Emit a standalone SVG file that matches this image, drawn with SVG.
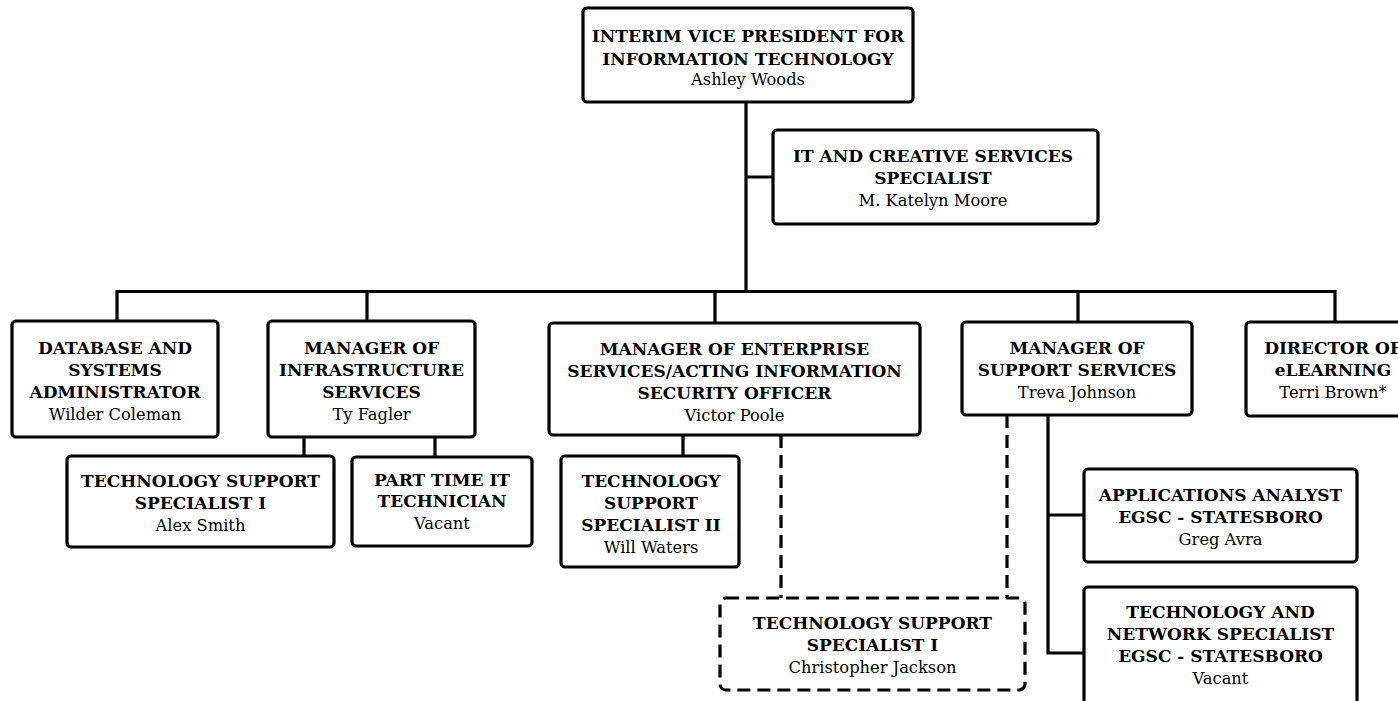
<svg xmlns="http://www.w3.org/2000/svg" width="1398" height="701" viewBox="0 0 1398 701">
<style>
.box{fill:#fff;stroke:#000;stroke-width:3.2}
.dbox{fill:#fff;stroke:#000;stroke-width:3.2;stroke-dasharray:13 7}
.ln{fill:none;stroke:#000;stroke-width:3.2}
.dl{fill:none;stroke:#000;stroke-width:3.2;stroke-dasharray:13 7}
text{font-family:"DejaVu Serif","Liberation Serif",serif;text-anchor:middle;fill:#000}
.t{font-weight:bold;font-size:17px}
.n{font-size:16.3px}
</style>
<rect width="1398" height="701" fill="#fff"/>
<g id="connectors">
<path class="ln" d="M746 102V291.5M746 177H773M117 291.5H1335M117 290V321M367 290V321M715 290V323M1078 290V322M1335 290V322M304 437V456M435 437V457M683 435V456M1048 415V653H1084M1048 515H1084"/>
<path class="dl" d="M781 435V598M1007 415V598"/>
</g>
<g id="vp">
<rect class="box" x="583" y="8" width="330" height="94" rx="4"/>
<text class="t" x="748" y="42">INTERIM VICE PRESIDENT FOR</text>
<text class="t" x="748" y="65">INFORMATION TECHNOLOGY</text>
<text class="n" x="748" y="85">Ashley Woods</text>
</g>
<g id="creative">
<rect class="box" x="773" y="130" width="325" height="94" rx="4"/>
<text class="t" x="933" y="162">IT AND CREATIVE SERVICES</text>
<text class="t" x="933" y="184">SPECIALIST</text>
<text class="n" x="933" y="206">M. Katelyn Moore</text>
</g>
<g id="database">
<rect class="box" x="12" y="321" width="206" height="116" rx="4"/>
<text class="t" x="115" y="354">DATABASE AND</text>
<text class="t" x="115" y="376">SYSTEMS</text>
<text class="t" x="115" y="398">ADMINISTRATOR</text>
<text class="n" x="115" y="420">Wilder Coleman</text>
</g>
<g id="infrastructure">
<rect class="box" x="268" y="321" width="207" height="116" rx="4"/>
<text class="t" x="371.5" y="354">MANAGER OF</text>
<text class="t" x="371.5" y="376">INFRASTRUCTURE</text>
<text class="t" x="371.5" y="398">SERVICES</text>
<text class="n" x="371.5" y="420">Ty Fagler</text>
</g>
<g id="tss1a">
<rect class="box" x="67" y="456" width="267" height="91" rx="4"/>
<text class="t" x="200.5" y="487">TECHNOLOGY SUPPORT</text>
<text class="t" x="200.5" y="509">SPECIALIST I</text>
<text class="n" x="200.5" y="531">Alex Smith</text>
</g>
<g id="parttime">
<rect class="box" x="352" y="457" width="180" height="89" rx="4"/>
<text class="t" x="442" y="486">PART TIME IT</text>
<text class="t" x="442" y="507">TECHNICIAN</text>
<text class="n" x="442" y="529">Vacant</text>
</g>
<g id="enterprise">
<rect class="box" x="549" y="323" width="371" height="112" rx="4"/>
<text class="t" x="734.5" y="355">MANAGER OF ENTERPRISE</text>
<text class="t" x="734.5" y="377">SERVICES/ACTING INFORMATION</text>
<text class="t" x="734.5" y="399">SECURITY OFFICER</text>
<text class="n" x="734.5" y="421">Victor Poole</text>
</g>
<g id="tss2">
<rect class="box" x="561" y="456" width="178" height="111" rx="4"/>
<text class="t" x="651" y="487">TECHNOLOGY</text>
<text class="t" x="651" y="509">SUPPORT</text>
<text class="t" x="651" y="531">SPECIALIST II</text>
<text class="n" x="651" y="553">Will Waters</text>
</g>
<g id="tss1b">
<rect class="dbox" x="720" y="598" width="305" height="92" rx="6"/>
<text class="t" x="872.5" y="629">TECHNOLOGY SUPPORT</text>
<text class="t" x="872.5" y="651">SPECIALIST I</text>
<text class="n" x="872.5" y="673">Christopher Jackson</text>
</g>
<g id="support">
<rect class="box" x="962" y="322" width="230" height="93" rx="4"/>
<text class="t" x="1077" y="354">MANAGER OF</text>
<text class="t" x="1077" y="376">SUPPORT SERVICES</text>
<text class="n" x="1077" y="398">Treva Johnson</text>
</g>
<g id="director">
<rect class="box" x="1246" y="322" width="175" height="94" rx="4"/>
<text class="t" x="1333" y="354">DIRECTOR OF</text>
<text class="t" x="1333" y="376">eLEARNING</text>
<text class="n" x="1333" y="398">Terri Brown*</text>
</g>
<g id="applications">
<rect class="box" x="1084" y="469" width="273" height="93" rx="4"/>
<text class="t" x="1220.5" y="501">APPLICATIONS ANALYST</text>
<text class="t" x="1220.5" y="523">EGSC - STATESBORO</text>
<text class="n" x="1220.5" y="545">Greg Avra</text>
</g>
<g id="network">
<rect class="box" x="1084" y="587" width="273" height="130" rx="4"/>
<text class="t" x="1220.5" y="618">TECHNOLOGY AND</text>
<text class="t" x="1220.5" y="640">NETWORK SPECIALIST</text>
<text class="t" x="1220.5" y="662">EGSC - STATESBORO</text>
<text class="n" x="1220.5" y="684">Vacant</text>
</g>
</svg>
